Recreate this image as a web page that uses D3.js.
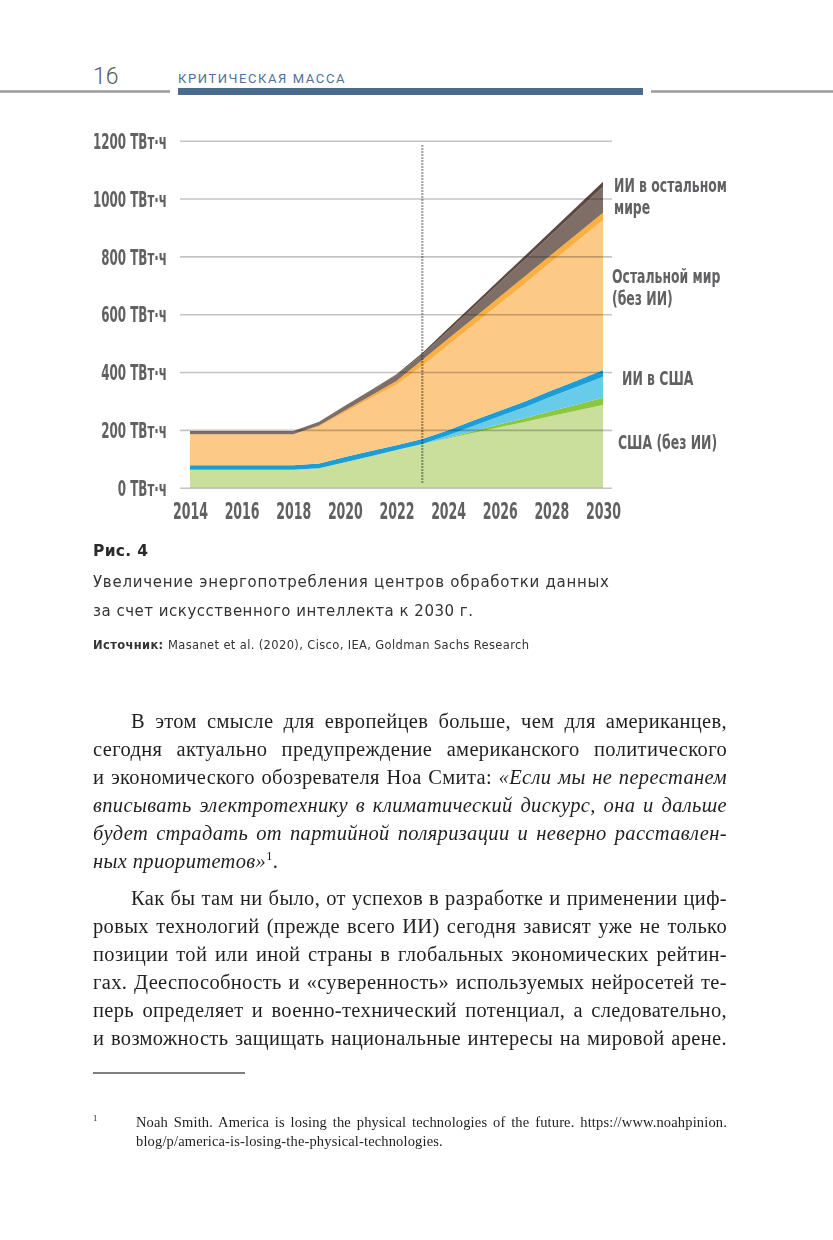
<!DOCTYPE html>
<html>
<head>
<meta charset="utf-8">
<script src="https://cdn.jsdelivr.net/npm/d3@7"></script>
<style>
body { margin: 0; background: #fff; }
svg { display: block; }
</style>
</head>
<body>
<script>
// data, TWh
const years = [2014, 2015, 2016, 2017, 2018, 2019, 2020, 2021, 2022, 2023, 2024, 2025, 2026, 2027, 2028, 2029, 2030];
const usBase  = [62, 62, 62, 62, 62, 67, 88, 109, 130, 151, 170, 190, 209, 228, 248, 267, 286];
const usBase2 = [0, 0, 0, 0, 0, 0, 0, 0, 0, 0, 3, 6, 10, 13, 17, 21, 25];
const usAI    = [0, 0, 0, 0, 0, 0, 0, 0, 0, 0, 8, 18, 28, 38, 50, 61, 73];
const usAI2   = [16, 16, 16, 16, 16, 17, 18, 18, 17, 17, 18, 19, 19, 20, 21, 22, 23];
const rowBase  = [107, 107, 107, 107, 107, 128, 155, 182, 209, 253, 294, 331, 370, 409, 445, 481, 518];
const rowBase2 = [0, 0, 0, 0, 0, 3, 6, 9, 13, 21, 22, 23, 24, 25, 25, 26, 26];
const rowAI    = [11, 11, 11, 11, 11, 13, 16, 19, 21, 19, 27, 38, 49, 58, 69, 80, 90];
const rowAI2   = [0, 0, 0, 0, 0, 0, 0, 0, 2, 5, 9, 10, 11, 13, 14, 15, 17];

const keys = ['usBase', 'usBase2', 'usAI', 'usAI2', 'rowBase', 'rowBase2', 'rowAI', 'rowAI2'];
const colors = ['#c9df9b', '#8dc63f', '#67cbe9', '#1b9ed8', '#fcc987', '#fbb040', '#7f6e66', '#5b4a43'];

const yTicks = [0, 200, 400, 600, 800, 1000, 1200];
const xTicks = [2014, 2016, 2018, 2020, 2022, 2024, 2026, 2028, 2030];
const forecastYear = 2023;

const seriesLabels = [
    { lines: ['ИИ в остальном', 'мире'], x: 614, y: 192 },
    { lines: ['Остальной мир', '(без ИИ)'], x: 612, y: 283 },
    { lines: ['ИИ в США'], x: 622, y: 385 },
    { lines: ['США (без ИИ)'], x: 618, y: 449 }
];

const para1 = [
    [{ t: 'В этом смысле для европейцев больше, чем для американцев,' }],
    [{ t: 'сегодня актуально предупреждение американского политического' }],
    [{ t: 'и экономического обозревателя Ноа Смита: ' }, { t: '«Если мы не перестанем', i: 1 }],
    [{ t: 'вписывать электротехнику в климатический дискурс, она и дальше', i: 1 }],
    [{ t: 'будет страдать от партийной поляризации и неверно расставлен-', i: 1 }],
    [{ t: 'ных приоритетов»', i: 1 }, { t: '1', sup: 1 }, { t: '.' }]
];
const para2 = [
    [{ t: 'Как бы там ни было, от успехов в разработке и применении циф-' }],
    [{ t: 'ровых технологий (прежде всего ИИ) сегодня зависят уже не только' }],
    [{ t: 'позиции той или иной страны в глобальных экономических рейтин-' }],
    [{ t: 'гах. Дееспособность и «суверенность» используемых нейросетей те-' }],
    [{ t: 'перь определяет и военно-технический потенциал, а следовательно,' }],
    [{ t: 'и возможность защищать национальные интересы на мировой арене.' }]
];

const width = 833;
const height = 1240;
const condFont = "'DejaVu Sans Condensed', 'DejaVu Sans', sans-serif";
const capFont = "'DejaVu Sans', 'Noto Sans', sans-serif";
const serifFont = "'Liberation Serif', 'DejaVu Serif', serif";
const labelGray = '#616163';

const svg = d3.select('body').append('svg')
    .attr('width', width)
    .attr('height', height);

// squeeze a set of texts so that the widest one gets the given width
function condense(sel, widest) {
    let maxW = 0;
    sel.each(function () { maxW = Math.max(maxW, this.getComputedTextLength()); });
    const k = widest / maxW;
    sel.each(function () {
        d3.select(this)
            .attr('textLength', this.getComputedTextLength() * k)
            .attr('lengthAdjust', 'spacingAndGlyphs');
    });
}

// page header
svg.append('text')
    .attr('x', 93).attr('y', 84)
    .attr('font-family', "Roboto, 'Open Sans', sans-serif")
    .attr('font-weight', 300)
    .attr('font-size', 23)
    .attr('fill', '#5a5a5a')
    .text('16');
svg.append('text')
    .attr('x', 178).attr('y', 83)
    .attr('font-family', "Roboto, 'Open Sans', sans-serif")
    .attr('font-size', 13)
    .attr('letter-spacing', 1.6)
    .attr('fill', '#4e7199')
    .text('КРИТИЧЕСКАЯ МАССА');
svg.append('line').attr('x1', 0).attr('x2', 170).attr('y1', 91.5).attr('y2', 91.5)
    .attr('stroke', '#9a9a9a').attr('stroke-width', 2.5);
svg.append('rect').attr('x', 178).attr('y', 88).attr('width', 465).attr('height', 7)
    .attr('fill', '#4a6b8e');
svg.append('line').attr('x1', 651).attr('x2', 833).attr('y1', 91.5).attr('y2', 91.5)
    .attr('stroke', '#9a9a9a').attr('stroke-width', 2.5);

// chart
const x = d3.scaleLinear().domain([2014, 2030]).range([190, 603]);
const y = d3.scaleLinear().domain([0, 1200]).range([487.7, 140.7]);

const rows = years.map((yr, i) => ({
    year: yr,
    usBase: usBase[i], usBase2: usBase2[i], usAI: usAI[i], usAI2: usAI2[i],
    rowBase: rowBase[i], rowBase2: rowBase2[i], rowAI: rowAI[i], rowAI2: rowAI2[i]
}));
const stacked = d3.stack().keys(keys)(rows);

const area = d3.area()
    .x(d => x(d.data.year))
    .y0(d => y(d[0]))
    .y1(d => y(d[1]));

svg.append('g').selectAll('path')
    .data(stacked)
    .join('path')
    .attr('d', area)
    .attr('fill', (d, i) => colors[i]);

// grid on top of the areas
const grid = svg.append('g')
    .attr('transform', 'translate(612,0)')
    .style('mix-blend-mode', 'multiply')
    .call(d3.axisLeft(y).tickValues(yTicks).tickSize(432).tickFormat(''));
grid.select('.domain').remove();
grid.selectAll('line').attr('stroke', '#c4c4c4').attr('stroke-width', 1.6);

// forecast marker
svg.append('line')
    .attr('x1', x(forecastYear)).attr('x2', x(forecastYear))
    .attr('y1', 145).attr('y2', 483)
    .attr('stroke', '#a3a3a3')
    .attr('stroke-width', 2.2)
    .attr('stroke-dasharray', '2,1')
    .style('mix-blend-mode', 'multiply');

// y axis labels
const yAxis = svg.append('g')
    .attr('transform', 'translate(167,0)')
    .call(d3.axisLeft(y).tickValues(yTicks).tickSize(0).tickPadding(0)
        .tickFormat(d => d + ' ТВт·ч'));
yAxis.select('.domain').remove();
yAxis.selectAll('text')
    .attr('font-family', condFont)
    .attr('font-weight', 'bold')
    .attr('font-size', 21.5)
    .attr('fill', labelGray)
    .attr('dy', '0.36em');
condense(yAxis.selectAll('text'), 74);

// x axis labels
const xAxis = svg.append('g')
    .attr('transform', 'translate(0,519)')
    .call(d3.axisBottom(x).tickValues(xTicks).tickSize(0).tickFormat(d3.format('d')));
xAxis.select('.domain').remove();
xAxis.selectAll('text')
    .attr('y', 0).attr('dy', 0)
    .attr('font-family', condFont)
    .attr('font-weight', 'bold')
    .attr('font-size', 22.5)
    .attr('fill', labelGray);
condense(xAxis.selectAll('text'), 35);

// series labels
const lab = svg.append('g')
    .attr('font-family', condFont)
    .attr('font-weight', 'bold')
    .attr('font-size', 20)
    .attr('fill', labelGray);
seriesLabels.forEach(l => {
    l.lines.forEach((s, k) => {
        lab.append('text').attr('x', l.x).attr('y', l.y + k * 22).text(s);
    });
});
condense(lab.selectAll('text'), 113);

// caption
svg.append('text')
    .attr('x', 93).attr('y', 556)
    .attr('font-family', capFont).attr('font-weight', 'bold')
    .attr('font-size', 15.5).attr('fill', '#2b2b2b')
    .attr('textLength', 55).attr('lengthAdjust', 'spacing')
    .text('Рис. 4');
const capLines = [
    { t: 'Увеличение энергопотребления центров обработки данных', y: 587, w: 516 },
    { t: 'за счет искусственного интеллекта к 2030 г.', y: 616, w: 380 }
];
capLines.forEach(c => {
    svg.append('text')
        .attr('x', 93).attr('y', c.y)
        .attr('font-family', capFont).attr('font-size', 15)
        .attr('fill', '#333')
        .attr('textLength', c.w).attr('lengthAdjust', 'spacing')
        .text(c.t);
});
const src = svg.append('text')
    .attr('x', 93).attr('y', 649)
    .attr('font-family', capFont).attr('font-size', 11.5)
    .attr('fill', '#333')
    .attr('textLength', 436).attr('lengthAdjust', 'spacing');
src.append('tspan').attr('font-weight', 'bold').text('Источник: ');
src.append('tspan').text('Masanet et al. (2020), Cisco, IEA, Goldman Sachs Research');

// body text, justified by word spacing
function textLine(x0, x1, yb, parts, size, ls, justify) {
    const t = svg.append('text')
        .attr('x', x0).attr('y', yb)
        .attr('font-family', serifFont)
        .attr('font-size', size)
        .attr('letter-spacing', ls)
        .attr('fill', '#1f1f1f');
    parts.forEach((p, k) => {
        const s = t.append('tspan').text(p.t);
        if (p.i) s.attr('font-style', 'italic');
        if (p.sup) s.attr('font-size', size * 0.6).attr('dy', -size * 0.38);
        else if (k > 0 && parts[k - 1].sup) s.attr('dy', size * 0.38);
    });
    if (justify) {
        const len = t.node().getComputedTextLength();
        const spaces = (t.text().match(/ /g) || []).length;
        if (spaces) t.attr('word-spacing', (x1 - x0 - len) / spaces);
    }
    return t;
}

para1.forEach((parts, k) => {
    textLine(k === 0 ? 131 : 93, 727, 728 + k * 28, parts, 20.5, 0.35, k < para1.length - 1);
});
para2.forEach((parts, k) => {
    textLine(k === 0 ? 131 : 93, 727, 905 + k * 28, parts, 20.5, 0.35, true);
});

// footnote
svg.append('line').attr('x1', 93).attr('x2', 245).attr('y1', 1073).attr('y2', 1073)
    .attr('stroke', '#555').attr('stroke-width', 1.3);
svg.append('text')
    .attr('x', 93).attr('y', 1121)
    .attr('font-family', serifFont).attr('font-size', 8.5).attr('fill', '#222')
    .text('1');
textLine(136, 727, 1127, [{ t: 'Noah Smith. America is losing the physical technologies of the future. https://www.noahpinion.' }], 14.5, 0.15, true);
textLine(136, 727, 1146, [{ t: 'blog/p/america-is-losing-the-physical-technologies.' }], 14.5, 0.15, false);
</script>
</body>
</html>
